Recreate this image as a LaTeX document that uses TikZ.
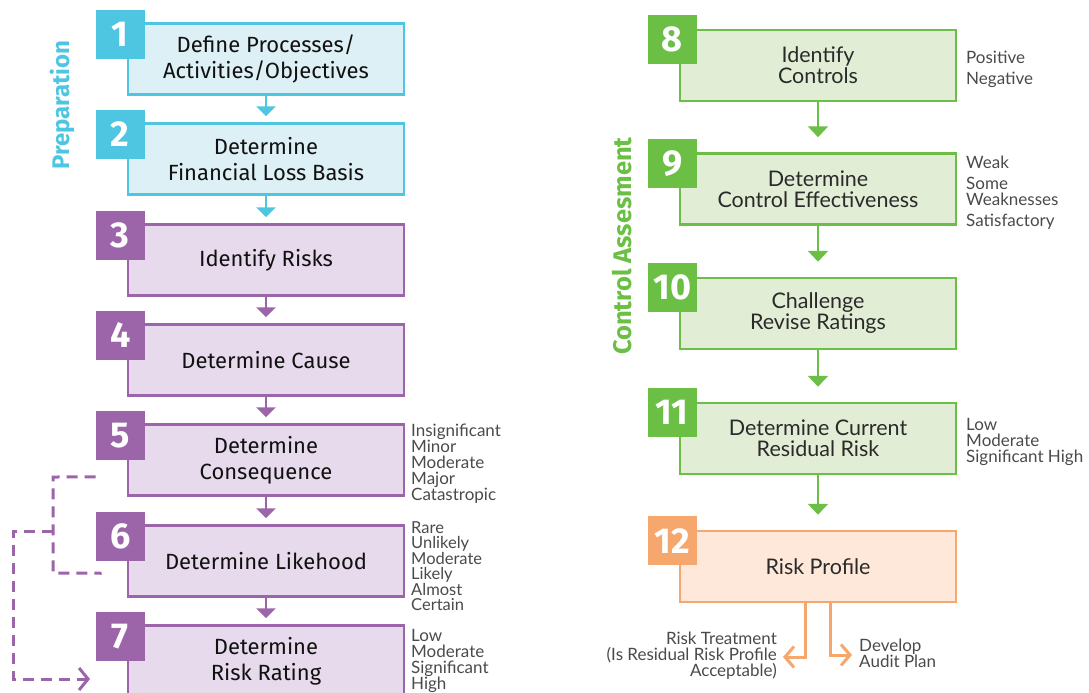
\documentclass[tikz,border=0pt]{standalone}
\usepackage{fontspec}
\setmainfont{Fira Sans}
\newfontfamily\lightfont{Lato}
\usetikzlibrary{arrows.meta,calc}
\definecolor{cy}{HTML}{4FC6E1}
\definecolor{cyf}{HTML}{DDF0F6}
\definecolor{pu}{HTML}{9D65A9}
\definecolor{puf}{HTML}{E7DAEC}
\definecolor{gr}{HTML}{6CBF45}
\definecolor{grf}{HTML}{E1EED5}
\definecolor{or}{HTML}{F6A76E}
\definecolor{orf}{HTML}{FDE8D9}
\definecolor{txt}{HTML}{111111}
\definecolor{txtr}{HTML}{2A2A2A}
\definecolor{side}{HTML}{4A4A4A}
\begin{document}
\begin{tikzpicture}[x=1pt,y=-1pt,
  box/.style={draw, line width=2.5pt, minimum width=276pt, minimum height=71pt, inner sep=0pt, align=center},
  lbox/.style={box, text=txt, font=\fontsize{22}{26}\selectfont},
  rbox/.style={box, text=txtr, font=\lightfont\fontsize{21.5}{21}\selectfont},
  num/.style={minimum size=49pt, inner sep=0pt, text=white, font=\bfseries\fontsize{36}{36}\selectfont},
  sidelab/.style={text=side, inner sep=0pt, align=left, font=\lightfont\fontsize{17}{16}\selectfont},
  flowL/.style={line width=2.5pt, -{Triangle[width=19pt,length=10pt]}, shorten >=6pt},
  flowR/.style={line width=2.5pt, -{Triangle[width=20pt,length=11pt]}, shorten >=15pt},
  dashline/.style={pu, line width=3pt, dash pattern=on 11pt off 7pt},
  outarrow/.style={or, line width=3pt, -{Straight Barb[length=9pt,width=21pt]}},
  vlabel/.style={rotate=90, font=\bfseries\fontsize{24}{24}\selectfont, inner sep=0pt}
]
\useasboundingbox (0,0) rectangle (1089,693);

% ---- left column
\node[lbox, draw=cy, fill=cyf] (b1) at (266,59) {Define Processes/\\Activities/Objectives};
\node[lbox, draw=cy, fill=cyf] (b2) at (266,159) {Determine\\Financial Loss Basis};
\node[lbox, draw=pu, fill=puf] (b3) at (266,260) {Identify Risks};
\node[lbox, draw=pu, fill=puf] (b4) at (266,360) {Determine Cause};
\node[lbox, draw=pu, fill=puf] (b5) at (266,460) {Determine\\Consequence};
\node[lbox, draw=pu, fill=puf] (b6) at (266,561) {Determine Likehood};
\node[lbox, draw=pu, fill=puf] (b7) at (266,661) {Determine\\Risk Rating};

\node[num, fill=cy] (n1) at ($(b1.north west)+(-6.5,12)$) {1};
\node[num, fill=cy] (n2) at ($(b2.north west)+(-6.5,12)$) {2};
\node[num, fill=pu] (n3) at ($(b3.north west)+(-6.5,12)$) {3};
\node[num, fill=pu] (n4) at ($(b4.north west)+(-6.5,12)$) {4};
\node[num, fill=pu] (n5) at ($(b5.north west)+(-6.5,12)$) {5};
\node[num, fill=pu] (n6) at ($(b6.north west)+(-6.5,12)$) {6};
\node[num, fill=pu] (n7) at ($(b7.north west)+(-6.5,12)$) {7};

\draw[flowL, cy] (b1) -- (b2);
\draw[flowL, cy] (b2) -- (b3);
\draw[flowL, pu] (b3) -- (b4);
\draw[flowL, pu] (b4) -- (b5);
\draw[flowL, pu] (b5) -- (b6);
\draw[flowL, pu] (b6) -- (b7);

\node[vlabel, text=cy] (prep) at (62,105) {Preparation};

\node[sidelab, anchor=west] (l5) at (411,464) {Insignificant\\Minor\\Moderate\\Major\\Catastropic};
\node[sidelab, anchor=west, font=\lightfont\fontsize{16.5}{14.8}\selectfont] (l6) at (411,566) {Rare\\Unlikely\\Moderate\\Likely\\Almost\\Certain};
\node[sidelab, anchor=west] (l7) at (411,661) {Low\\Moderate\\Significant\\High};

% dashed feedback lines
\coordinate (d1) at ($(n5.south west)+(0,17)$);
\coordinate (d2) at (53,477);
\coordinate (d3) at (53,573);
\coordinate (d4) at ($(n6.west)+(6,37)$);
\draw[dashline] (d1) -- (d2) -- (d3) -- (d4);
\coordinate (e1) at (53,531);
\coordinate (e2) at (13,531);
\coordinate (e3) at (13,679);
\coordinate (e4) at (90,679);
\draw[dashline, -{Straight Barb[length=9pt,width=22pt]}] (e1) -- (e2) -- (e3) -- (e4);

% ---- right column
\node[rbox, draw=gr, fill=grf] (b8) at (818,65.5) {Identify\\Controls};
\node[rbox, draw=gr, fill=grf] (b9) at (818,189) {Determine\\Control Effectiveness};
\node[rbox, draw=gr, fill=grf] (b10) at (818,313.5) {Challenge\\Revise Ratings};
\node[rbox, draw=gr, fill=grf] (b11) at (818,438.5) {Determine Current\\Residual Risk};
\node[rbox, draw=or, fill=orf] (b12) at (818,566.5) {Risk Profile};

\node[num, fill=gr] (n8) at ($(b8.north west)+(-6.5,11)$) {8};
\node[num, fill=gr] (n9) at ($(b9.north west)+(-6.5,11)$) {9};
\node[num, fill=gr] (n10) at ($(b10.north west)+(-6.5,11)$) {10};
\node[num, fill=gr] (n11) at ($(b11.north west)+(-6.5,11)$) {11};
\node[num, fill=or] (n12) at ($(b12.north west)+(-6.5,11)$) {12};

\draw[flowR, gr] (b8) -- (b9);
\draw[flowR, gr] (b9) -- (b10);
\draw[flowR, gr] (b10) -- (b11);
\draw[flowR, gr] (b11) -- (b12);

\node[vlabel, text=gr, font=\bfseries\fontsize{25.5}{25.5}\selectfont] (ctrl) at (622,246) {Control Assesment};

\node[sidelab, anchor=west, font=\lightfont\fontsize{17}{21}\selectfont] (l8) at (966,69.5) {Positive\\Negative};
\node[sidelab, anchor=west] (l9) at (966,192.5) {Weak\\[5pt]Some\\Weaknesses\\[5pt]Satisfactory};
\node[sidelab, anchor=west] (l11) at (966,442) {Low\\Moderate\\Significant High};

\node[sidelab, anchor=east, align=right] (treat) at (777,656) {Risk Treatment\\(Is Residual Risk Profile\\Acceptable)};
\node[sidelab, anchor=west] (audit) at (859,653) {Develop\\Audit Plan};

\draw[outarrow] ([xshift=-13pt]b12.south) |- ([xshift=6pt,yshift=-1pt]treat.east);
\draw[outarrow] ([xshift=12pt]b12.south) |- ([xshift=-7pt,yshift=-2pt]audit.west);
\end{tikzpicture}
\end{document}
